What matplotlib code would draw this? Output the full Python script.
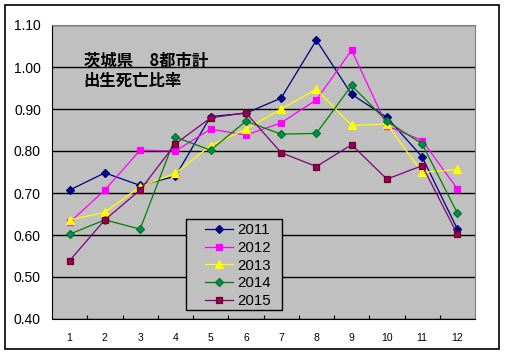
import matplotlib
matplotlib.use("Agg")
import matplotlib.pyplot as plt
from matplotlib.patches import Rectangle

months = [1, 2, 3, 4, 5, 6, 7, 8, 9, 10, 11, 12]
month_labels = [str(m) for m in months]
years = ["2011", "2012", "2013", "2014", "2015"]
v2011 = [0.707, 0.748, 0.718, 0.740, 0.882, 0.890, 0.926, 1.064, 0.935, 0.880, 0.786, 0.614]
v2012 = [0.630, 0.707, 0.802, 0.800, 0.852, 0.838, 0.867, 0.922, 1.040, 0.860, 0.825, 0.710]
v2013 = [0.636, 0.654, 0.715, 0.747, 0.813, 0.852, 0.900, 0.947, 0.861, 0.864, 0.749, 0.756]
v2014 = [0.602, 0.636, 0.614, 0.833, 0.802, 0.871, 0.840, 0.842, 0.956, 0.871, 0.817, 0.652]
v2015 = [0.539, 0.636, 0.707, 0.817, 0.879, 0.891, 0.796, 0.763, 0.815, 0.733, 0.765, 0.602]
series = [v2011, v2012, v2013, v2014, v2015]
yticks = [0.40, 0.50, 0.60, 0.70, 0.80, 0.90, 1.00, 1.10]
title_lines = ["茨城県　8都市計", "出生死亡比率"]

styles = [
    dict(color="#000080", marker="D", mfc="#000080", mec="#000080", ms=4.5),
    dict(color="#FF00FF", marker="s", mfc="#FF00FF", mec="#FF00FF", ms=5),
    dict(color="#FFFF00", marker="^", mfc="#FFFF00", mec="#FFFF00", ms=6),
    dict(color="#008000", marker="D", mfc="#008080", mec="#008000", ms=4.5),
    dict(color="#800080", marker="s", mfc="#800080", mec="#800000", ms=5),
]

plt.rcParams['font.family'] = ['Liberation Sans', 'Noto Sans CJK JP', 'DejaVu Sans']

fig = plt.figure(figsize=(5.05, 3.54), dpi=100)
fig.patch.set_facecolor("white")
fig.patches.append(Rectangle((5/505, 1-349/354), 494/505, 344/354, transform=fig.transFigure,
                             fill=False, edgecolor="black", linewidth=1.2))

ax = fig.add_axes([52/505, 1-319/354, (475-52)/505, (319-25)/354])
ax.set_facecolor("#C0C0C0")
for name, vals, st in zip(years, series, styles):
    ax.plot(months, vals, linewidth=0.9, markeredgewidth=0.9, label=name, **st)

ax.set_xlim(0.5, 12.5)
ax.set_ylim(0.40, 1.10)
ax.set_yticks(yticks)
ax.set_yticklabels([f"{t:.2f}" for t in yticks], fontsize=10)
ax.set_xticks(months)
ax.set_xticklabels(month_labels, fontsize=7.5)
ax.set_xticks([m + 0.5 for m in months[:-1]], minor=True)
ax.tick_params(axis="x", which="major", length=0, pad=10)
ax.tick_params(axis="x", which="minor", direction="in", length=3, width=0.8)
ax.tick_params(axis="y", which="major", length=0, pad=8)
ax.yaxis.grid(True, color="black", linewidth=1.0)
ax.set_axisbelow(True)
ax.spines["left"].set_color("black")
ax.spines["bottom"].set_color("black")
ax.spines["top"].set_color("#808080")
ax.spines["right"].set_color("#808080")

for i, t in enumerate(title_lines):
    ax.text(0.075, 0.882 - i*0.0735, t, transform=ax.transAxes, fontsize=11.8, fontweight="bold",
            family=['Noto Sans CJK JP', 'DejaVu Sans'], va="center", ha="left")

# legend box
box = Rectangle((185.5/505, 1-310/354), 96/505, 91/354, transform=fig.transFigure,
                facecolor="#C0C0C0", edgecolor="black", linewidth=1.0, zorder=4, clip_on=False)
ax.add_patch(box)
leg = ax.legend(loc="upper left", bbox_to_anchor=(200/505, 1-219/354), bbox_transform=fig.transFigure,
                fontsize=10.8, frameon=False, borderaxespad=0, handlelength=1.9,
                labelspacing=0.24, borderpad=0.3, handletextpad=0.3, markerscale=0.85)
leg.set_zorder(5)

fig.savefig("out.png", dpi=100)
